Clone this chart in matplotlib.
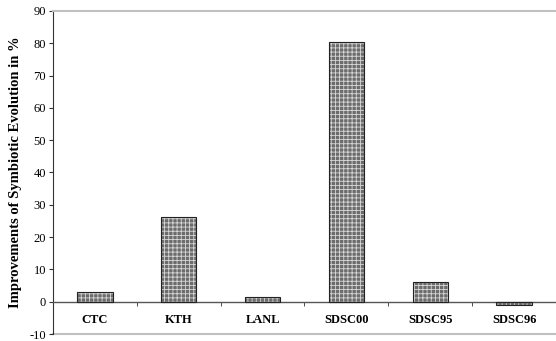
import matplotlib
matplotlib.use("Agg")
import matplotlib.pyplot as plt
import numpy as np

categories = ["CTC", "KTH", "LANL", "SDSC00", "SDSC95", "SDSC96"]
values = [3.0, 26.3, 1.5, 80.5, 6.0, -1.0]
yticks = list(range(-10, 91, 10))

plt.rcParams['hatch.linewidth'] = 0.6
fig = plt.figure(figsize=(5.56, 3.41), dpi=100)
ax = fig.add_axes([0.0953, 0.0205, 0.9047, 0.9475])

x = np.arange(len(categories))
ax.bar(x, values, width=0.42, color='#6c6c6c', edgecolor='#d8d8d8', hatch='++++', linewidth=0, zorder=2)
ax.bar(x, values, width=0.42, fill=False, edgecolor='#222222', linewidth=0.8, zorder=3)

ax.set_xlim(-0.5, len(categories) - 0.5)
ax.set_ylim(-10, 90)
ax.set_yticks(yticks)
ax.set_yticklabels([str(v) for v in yticks], family='Liberation Serif', fontsize=9)

ax.spines['right'].set_visible(False)
ax.spines['top'].set_color('#c0c0c0')
ax.spines['top'].set_linewidth(1.5)
ax.spines['bottom'].set_position(('data', 0))
ax.spines['bottom'].set_color('#555555')
ax.spines['bottom'].set_linewidth(1.0)
ax.spines['left'].set_color('#333333')
ax.axhline(-10, color='#c0c0c0', linewidth=1.5, zorder=1, clip_on=False)

ax.set_xticks(x)
ax.set_xticklabels(categories, family='Liberation Serif', fontweight='bold', fontsize=9)
ax.tick_params(axis='x', which='major', length=0, pad=9)
ax.set_xticks(np.arange(0.5, len(categories) - 0.5, 1.0), minor=True)
ax.tick_params(axis='x', which='minor', length=3, direction='out', color='#333333')
ax.tick_params(axis='y', length=3, direction='out', color='#333333', pad=2)

ax.set_ylabel("Improvements of Symbiotic Evolution in %", family='Liberation Serif',
              fontweight='bold', fontsize=10.5, labelpad=5)

fig.savefig("out.png", dpi=100)
